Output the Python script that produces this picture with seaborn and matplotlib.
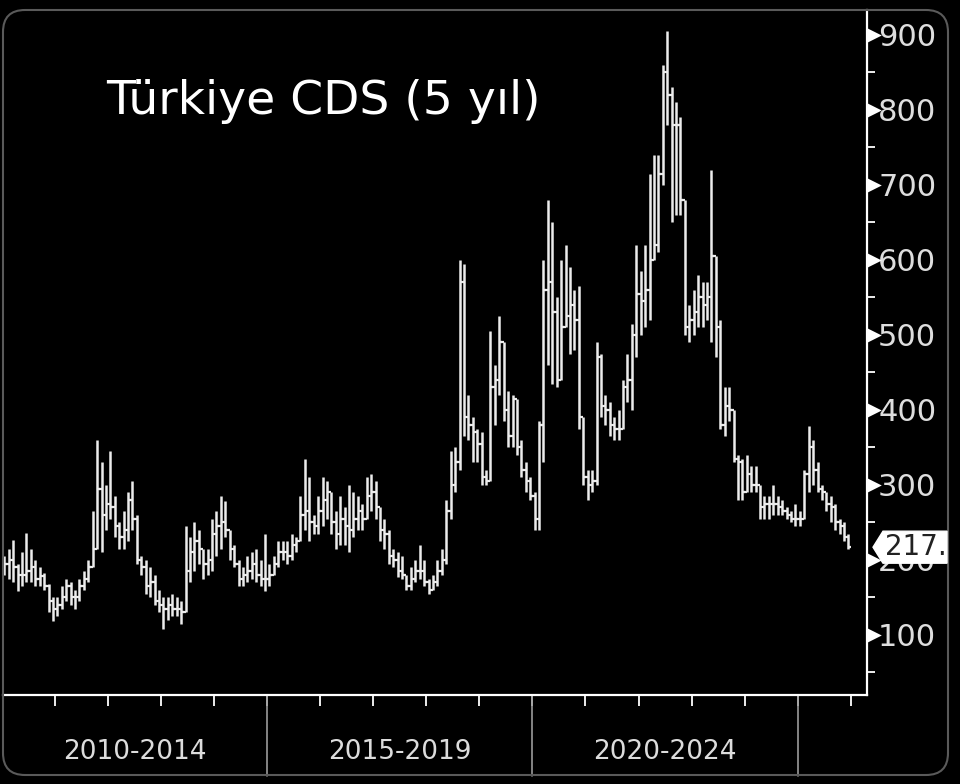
import numpy as np
import pandas as pd
import matplotlib
matplotlib.use('Agg')
import matplotlib.pyplot as plt
import seaborn as sns
from matplotlib.patches import FancyBboxPatch, Polygon
from matplotlib.transforms import blended_transform_factory, IdentityTransform
from matplotlib.ticker import MultipleLocator

# Aylik CDS barlari (Ocak 2010 - Aralik 2025), her satir bir yil
high = [
    205, 215, 227, 195, 210, 236, 215, 200, 190, 182, 168, 150,
    150, 165, 175, 170, 160, 175, 185, 200, 265, 360, 330, 300,
    345, 285, 250, 265, 290, 305, 260, 205, 200, 190, 180, 160,
    150, 150, 155, 150, 145, 245, 230, 250, 240, 215, 215, 255,
    265, 285, 278, 240, 220, 200, 190, 205, 210, 215, 200, 235,
    195, 205, 225, 225, 225, 235, 230, 285, 335, 310, 260, 285,
    310, 305, 290, 265, 285, 270, 300, 290, 285, 275, 310, 315,
    305, 265, 255, 240, 215, 210, 205, 180, 190, 200, 220, 200,
    175, 180, 200, 215, 280, 345, 350, 600, 595, 420, 390, 375,
    370, 320, 505, 460, 525, 480, 425, 420, 410, 360, 330, 310,
    290, 385, 600, 680, 650, 550, 600, 620, 590, 560, 565, 380,
    320, 320, 490, 475, 420, 410, 390, 400, 440, 475, 515, 620,
    585, 620, 715, 740, 740, 860, 905, 830, 810, 790, 670, 540,
    560, 580, 570, 570, 720, 600, 520, 430, 430, 400, 340, 335,
    340, 325, 325, 300, 285, 285, 300, 285, 280, 270, 265, 275,
    265, 320, 378, 360, 330, 300, 290, 285, 275, 255, 250, 235,
]
low = [
    180, 175, 170, 158, 165, 170, 170, 165, 165, 160, 130, 118,
    125, 135, 145, 140, 135, 145, 160, 170, 195, 215, 210, 240,
    255, 230, 215, 215, 225, 240, 195, 180, 155, 150, 140, 130,
    108, 120, 125, 125, 115, 130, 170, 185, 195, 175, 180, 185,
    205, 215, 230, 200, 190, 165, 165, 170, 175, 170, 165, 158,
    165, 180, 190, 200, 195, 200, 210, 225, 240, 225, 235, 235,
    245, 255, 235, 215, 220, 220, 210, 230, 240, 240, 255, 265,
    255, 225, 215, 195, 190, 177, 175, 160, 160, 170, 175, 165,
    155, 160, 165, 180, 195, 255, 290, 320, 365, 360, 330, 330,
    300, 300, 305, 380, 420, 385, 350, 350, 340, 310, 290, 280,
    240, 240, 330, 460, 435, 430, 450, 520, 475, 480, 375, 300,
    280, 290, 300, 390, 380, 365, 360, 360, 375, 410, 400, 470,
    500, 510, 520, 600, 610, 700, 780, 650, 660, 660, 500, 490,
    500, 510, 510, 520, 490, 470, 375, 365, 385, 330, 280, 280,
    290, 290, 290, 255, 255, 255, 260, 260, 260, 255, 250, 245,
    245, 255, 290, 300, 290, 280, 265, 250, 240, 235, 225, 215,
]
close = [
    195, 200, 190, 180, 180, 185, 190, 175, 178, 165, 145, 135,
    140, 150, 165, 150, 150, 165, 175, 190, 215, 295, 260, 275,
    270, 245, 230, 240, 280, 255, 200, 190, 165, 170, 145, 140,
    135, 140, 135, 135, 130, 185, 210, 225, 215, 195, 200, 235,
    245, 250, 240, 215, 195, 175, 180, 185, 195, 180, 175, 175,
    180, 195, 210, 210, 205, 220, 225, 260, 265, 250, 245, 265,
    280, 290, 250, 235, 255, 245, 240, 255, 265, 255, 285, 290,
    270, 240, 235, 205, 200, 185, 180, 165, 175, 185, 185, 170,
    160, 170, 185, 200, 265, 300, 330, 570, 390, 380, 370, 355,
    310, 305, 430, 440, 490, 400, 365, 415, 350, 320, 305, 285,
    255, 380, 560, 570, 530, 440, 510, 525, 540, 520, 390, 310,
    300, 305, 470, 405, 400, 380, 375, 375, 430, 440, 500, 555,
    545, 560, 600, 620, 715, 850, 820, 780, 780, 680, 510, 520,
    530, 550, 540, 550, 605, 510, 380, 405, 400, 335, 330, 290,
    315, 300, 300, 270, 275, 275, 275, 270, 265, 260, 255, 255,
    255, 315, 350, 320, 295, 290, 275, 270, 250, 245, 230, 217,
]
first_open = 195
period_labels = ['2010-2014', '2015-2019', '2020-2024']
y_ticks = [100, 200, 300, 400, 500, 600, 700, 800, 900]
last_label = '217.'

df = pd.DataFrame({'high': high, 'low': low, 'close': close})
df['t'] = np.arange(len(df)) + 0.5          # ay ortasi, Ocak 2010 = 0
df['open'] = df['close'].shift(1).fillna(first_open)
df['high'] = df[['high', 'open', 'close']].max(axis=1)
df['low'] = df[['low', 'open', 'close']].min(axis=1)

sns.set_theme(style='dark', rc={'axes.facecolor': 'black',
                                'figure.facecolor': 'black',
                                'savefig.facecolor': 'black'})
plt.rcParams['font.family'] = ['DejaVu Sans']

W, H = 960, 784
fig = plt.figure(figsize=(W / 100, H / 100), dpi=100)
ax = fig.add_axes([3 / W, 1 - 695 / H, 864 / W, 685 / H])
ax.set_facecolor('black')

bar_col = '#ececec'
ax.vlines(df['t'], df['low'], df['high'], color=bar_col, lw=1.8)
ax.hlines(df['open'], df['t'] - 0.55, df['t'], color=bar_col, lw=1.6)
ax.hlines(df['close'], df['t'], df['t'] + 0.55, color=bar_col, lw=1.6)

ax.set_xlim(0.2, 195.7)
ax.set_ylim(20, 933)
ax.grid(False)

for s in ['top', 'left']:
    ax.spines[s].set_visible(False)
for s in ['right', 'bottom']:
    ax.spines[s].set_color('white')
    ax.spines[s].set_linewidth(1.6)

# sag eksen
ax.yaxis.tick_right()
ax.set_yticks(y_ticks)
ax.set_yticklabels([str(v) for v in y_ticks])
ax.yaxis.set_minor_locator(MultipleLocator(50))
ax.tick_params(axis='y', which='major', length=0, pad=8,
               labelsize=22, labelcolor='#dedede')
ax.tick_params(axis='y', which='minor', right=True, left=False,
               length=6, width=1.3, color='white', direction='out')
ytr = blended_transform_factory(ax.transAxes, ax.transData)
ax.scatter([1.008] * len(y_ticks), y_ticks, marker='>', s=110, color='white',
           transform=ytr, clip_on=False, zorder=5, linewidths=0)

# alt eksen: yil tikleri ve donem ayiraclari
ax.set_xticks([])
ax.set_xticks(np.arange(12, 193, 12), minor=True)
ax.tick_params(axis='x', which='minor', bottom=True, length=8, width=1.3,
               color='white', direction='out', labelbottom=False)
xtr = blended_transform_factory(ax.transData, ax.transAxes)
for t in [60, 120, 180]:
    ax.plot([t, t], [0, -0.118], color='#9a9a9a', lw=1.2,
            transform=xtr, clip_on=False)
for i, lab in enumerate(period_labels):
    ax.text(30 + 60 * i, -0.083, lab, transform=xtr, ha='center',
            va='center', color='#dcdcdc', fontsize=19)

fig.text(106 / W, 1 - 102 / H, 'Türkiye CDS (5 yıl)', color='white',
         fontsize=34, ha='left', va='center')

# dis cerceve
frame = FancyBboxPatch((3 / 100, 9 / 100), 945 / 100, 765 / 100,
                       boxstyle='round,pad=0,rounding_size=0.22',
                       transform=fig.dpi_scale_trans, fill=False,
                       ec='#5a5a5a', lw=1.5)
fig.patches.append(frame)

# son deger etiketi
xs = ax.transAxes.transform((1, 0))[0]
ya = ax.transData.transform((0, df['close'].iloc[-1]))[1]
verts = [(xs + 6, ya), (xs + 16, ya + 16), (xs + 80, ya + 16),
         (xs + 80, ya - 16), (xs + 16, ya - 16)]
fig.patches.append(Polygon(verts, closed=True, transform=IdentityTransform(),
                           fc='white', ec='white', zorder=10))
fig.text(xs + 18, ya, last_label, transform=IdentityTransform(),
         color='#222222', fontsize=20, ha='left', va='center', zorder=11)

fig.savefig('out.png', dpi=100, facecolor='black')
